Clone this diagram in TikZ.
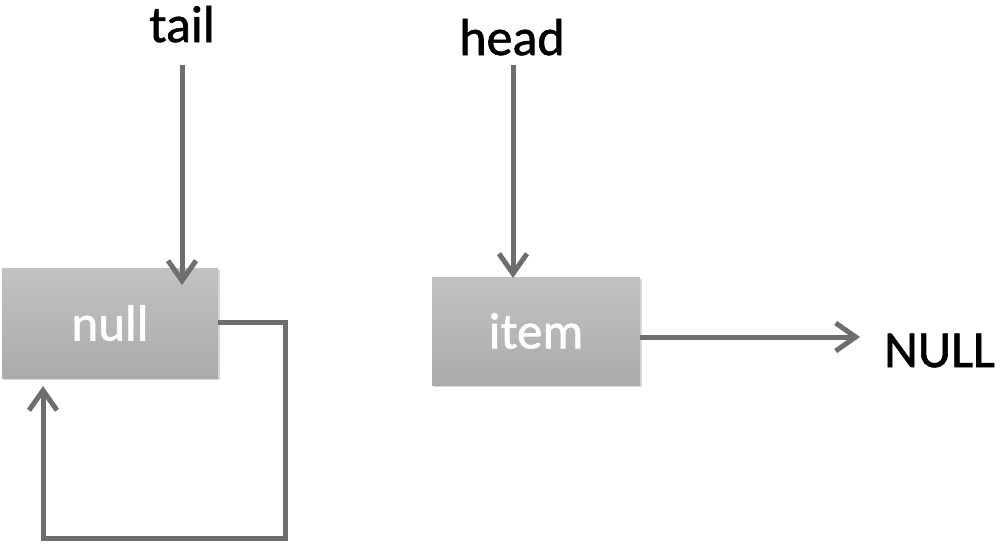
\documentclass[tikz,border=0pt]{standalone}
\usepackage{fontspec}
\setmainfont[FakeBold=1.2]{Carlito}
\usetikzlibrary{arrows.meta,shadows}
\definecolor{linegray}{HTML}{6E6E6E}
\definecolor{boxtop}{HTML}{C2C2C2}
\definecolor{boxbot}{HTML}{ABABAB}
\tikzset{
  boxnode/.style={draw=none, top color=boxtop, bottom color=boxbot, minimum width=216pt, minimum height=110pt, inner sep=0pt, text=white, font=\fontsize{51}{60}\selectfont, drop shadow={shadow xshift=1.5pt, shadow yshift=-2pt, fill=black!25, opacity=0.6}},
  lbl/.style={inner sep=0pt, font=\fontsize{52}{62}\selectfont, text=black},
  conn/.style={draw=linegray, line width=5pt, -{Straight Barb[length=20pt,width=28pt,line width=5pt]}},
}
\begin{document}
\begin{tikzpicture}[x=1pt,y=-1pt]
\useasboundingbox (0,0) rectangle (1000,549);
\node[boxnode] (null) at (110,323) {\raisebox{-3pt}{null}};
\node[boxnode, minimum width=208pt, minimum height=108pt] (item) at (536,331) {\raisebox{-5pt}{item}};
\node[lbl, anchor=base] (tail) at (182,42) {tail};
\node[lbl, anchor=base] (head) at (512,55) {head};
\node[lbl, anchor=base west] (NULL) at (884,367) {NULL};
\coordinate (tailtop) at (182,65);
\coordinate (headtop) at (513,65);
\coordinate (c1) at (285,322);
\coordinate (c2) at (285,538);
\coordinate (c3) at (43,538);
\coordinate (c4) at (43,386);
\coordinate (nullend) at (860,337);
\draw[conn] (tailtop) -- (182,285);
\draw[conn] (headtop) -- (513,278);
\draw[conn, line join=miter] (null.east |- c1) -- (c1) -- (c2) -- (c3) -- (c4);
\draw[conn] (item.east |- nullend) -- (nullend);
\end{tikzpicture}
\end{document}
